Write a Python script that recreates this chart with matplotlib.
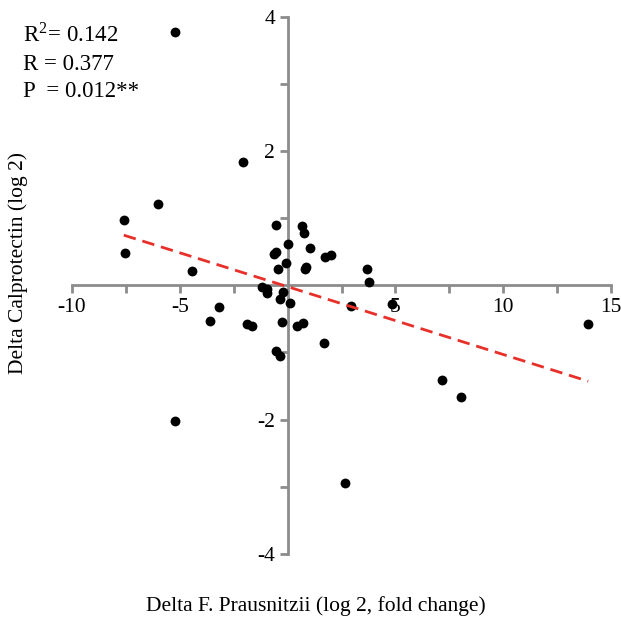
import numpy as np
import matplotlib
matplotlib.use("Agg")
import matplotlib.pyplot as plt
from matplotlib.ticker import FixedLocator

plt.rcParams["font.family"] = ["Liberation Serif", "DejaVu Serif"]
plt.rcParams["axes.unicode_minus"] = False
plt.rcParams["mathtext.fontset"] = "stix"

# Change in F. prausnitzii (log2 fold change) vs change in calprotectin (log2)
delta_fp = [
    -5.22, -2.09, -6.02, -7.60, -7.56, -4.44, -5.22, 2.67,
    7.16, 8.05, 13.94, 4.84,
    -0.54, 0.65, 0.76, 0.02, 1.05, -0.63, -0.55, 1.71, 2.00,
    -0.07, -0.47, 0.80, 0.86, 3.67, 3.78,
    -1.17, -0.96, -0.94, -0.21, -0.35, 0.09, -3.20, 2.95,
    -3.59, -1.87, -1.66, -0.26, 0.43, 0.72, 1.69, -0.52, -0.36,
]
delta_calpro = [
    3.77, 1.83, 1.21, 0.97, 0.48, 0.22, -2.02, -2.95,
    -1.41, -1.66, -0.58, -0.28,
    0.90, 0.89, 0.78, 0.62, 0.55, 0.47, 0.50, 0.42, 0.45,
    0.33, 0.25, 0.24, 0.27, 0.25, 0.05,
    -0.03, -0.06, -0.11, -0.10, -0.21, -0.27, -0.32, -0.31,
    -0.53, -0.58, -0.61, -0.54, -0.60, -0.56, -0.86, -0.98, -1.05,
]

# regression line
fit_slope = -0.101
fit_intercept = -0.02

stats_lines = [r"R$^{\mathregular{2}}$= 0.142", "R = 0.377", "P  = 0.012**"]

x = np.array(delta_fp)
y = np.array(delta_calpro)

fig = plt.figure(figsize=(6.21, 6.21), dpi=100)
ax = fig.add_axes([0.116, 0.108, 0.868, 0.865])

ax.scatter(x, y, s=50, color="black", zorder=3, linewidths=0)

xs = np.array([x.min(), x.max()])
ax.plot(xs, fit_intercept + fit_slope * xs, color="#e8302a", lw=2.0,
        dashes=(4.5, 2.5), zorder=4)

ax.set_xlim(-10, 15)
ax.set_ylim(-4, 4)

grey = "#8c8c8c"
for side in ("top", "right"):
    ax.spines[side].set_visible(False)
ax.spines["left"].set_position(("data", 0))
ax.spines["bottom"].set_position(("data", 0))
for side in ("left", "bottom"):
    ax.spines[side].set_color(grey)
    ax.spines[side].set_linewidth(2)

ax.xaxis.set_major_locator(FixedLocator([-10, -5, 5, 10, 15]))
ax.xaxis.set_minor_locator(FixedLocator([-7.5, -2.5, 2.5, 7.5, 12.5]))
ax.yaxis.set_major_locator(FixedLocator([-4, -2, 2, 4]))
ax.yaxis.set_minor_locator(FixedLocator([-3, -1, 1, 3]))
ax.tick_params(which="both", direction="out", color=grey, width=2,
               length=6, labelsize=15.5, pad=3)
ax.xaxis.set_major_formatter(plt.FuncFormatter(lambda v, p: f"{v:g}"))
ax.yaxis.set_major_formatter(plt.FuncFormatter(lambda v, p: f"{v:g}"))

fig.text(0.029, 0.577, "Delta Calprotectin (log 2)", rotation=90,
         ha="center", va="center", fontsize=15.5)
fig.text(0.509, 0.024, "Delta F. Prausnitzii (log 2, fold change)",
         ha="center", va="center", fontsize=15.5)

for i, s in enumerate(stats_lines):
    fig.text(0.037, 0.933 - i * 0.045, s, fontsize=16.5, ha="left",
             va="baseline")

fig.savefig("out.png", dpi=100)
